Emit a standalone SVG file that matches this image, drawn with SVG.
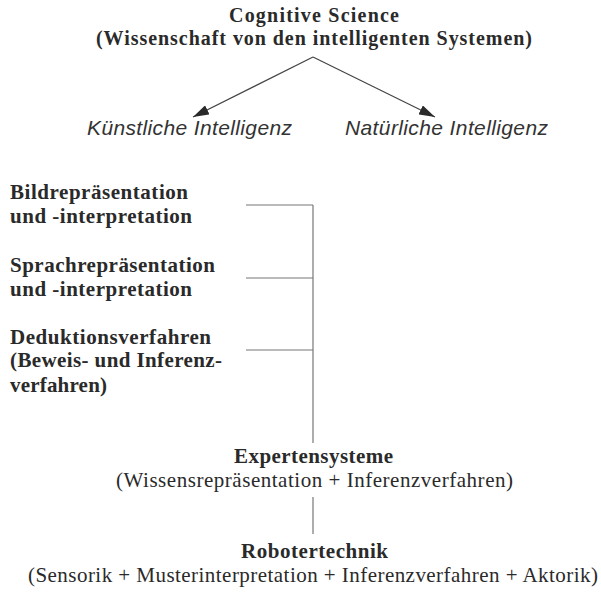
<svg xmlns="http://www.w3.org/2000/svg" width="601" height="592" viewBox="0 0 601 592">
<style>
.b{font-family:"Liberation Serif","Times New Roman",serif;font-weight:bold;font-size:21px;fill:#2a2a2a}
.t{font-family:"Liberation Serif","Times New Roman",serif;font-weight:bold;font-size:20px;fill:#2a2a2a}
.r{font-family:"Liberation Serif","Times New Roman",serif;font-size:21px;fill:#2a2a2a}
.i{font-family:"Liberation Sans",Arial,sans-serif;font-style:italic;font-size:21px;fill:#333}
.ln{stroke:#777;stroke-width:1.2;fill:none}
.ar{stroke:#444;stroke-width:1.2;fill:none}
</style>
<defs>
<marker id="ah" viewBox="0 0 16 10" refX="16" refY="5" markerWidth="16" markerHeight="10" markerUnits="userSpaceOnUse" orient="auto">
<path d="M0,0 L16,5 L0,10 Z" fill="#2a2a2a"/>
</marker>
</defs>
<rect width="601" height="592" fill="#fff"/>
<g id="cognitive-science">
<text class="t" x="229" y="22" textLength="170" lengthAdjust="spacing">Cognitive Science</text>
<text class="t" x="96" y="45" textLength="436" lengthAdjust="spacing">(Wissenschaft von den intelligenten Systemen)</text>
</g>
<g id="kuenstliche-intelligenz">
<text class="i" x="87" y="135" textLength="205" lengthAdjust="spacing">Künstliche Intelligenz</text>
</g>
<g id="natuerliche-intelligenz">
<text class="i" x="345" y="135" textLength="203" lengthAdjust="spacing">Natürliche Intelligenz</text>
</g>
<g id="bildrepraesentation">
<text class="b" x="10" y="199" textLength="178" lengthAdjust="spacing">Bildrepräsentation</text>
<text class="b" x="10" y="223" textLength="182" lengthAdjust="spacing">und -interpretation</text>
</g>
<g id="sprachrepraesentation">
<text class="b" x="10" y="272" textLength="205" lengthAdjust="spacing">Sprachrepräsentation</text>
<text class="b" x="10" y="296" textLength="182" lengthAdjust="spacing">und -interpretation</text>
</g>
<g id="deduktionsverfahren">
<text class="b" x="10" y="344" textLength="201" lengthAdjust="spacing">Deduktionsverfahren</text>
<text class="b" x="10" y="367" textLength="212" lengthAdjust="spacing">(Beweis- und Inferenz-</text>
<text class="b" x="10" y="392" textLength="97" lengthAdjust="spacing">verfahren)</text>
</g>
<g id="expertensysteme">
<text class="b" x="234" y="463" textLength="159" lengthAdjust="spacing">Expertensysteme</text>
<text class="r" x="116" y="487" textLength="397" lengthAdjust="spacing">(Wissensrepräsentation + Inferenzverfahren)</text>
</g>
<g id="robotertechnik">
<text class="b" x="241" y="558" textLength="147" lengthAdjust="spacing">Robotertechnik</text>
<text class="r" x="28" y="582" textLength="570" lengthAdjust="spacing">(Sensorik + Musterinterpretation + Inferenzverfahren + Aktorik)</text>
</g>
<g id="connectors">
<line class="ar" x1="313" y1="57" x2="193" y2="117" marker-end="url(#ah)"/>
<line class="ar" x1="313" y1="57" x2="435" y2="117" marker-end="url(#ah)"/>
<line class="ln" x1="246" y1="205" x2="313" y2="205"/>
<line class="ln" x1="246" y1="278" x2="313" y2="278"/>
<line class="ln" x1="246" y1="350" x2="313" y2="350"/>
<line class="ln" x1="313" y1="205" x2="313" y2="443"/>
<line class="ln" x1="313" y1="497" x2="313" y2="534"/>
</g>
</svg>
